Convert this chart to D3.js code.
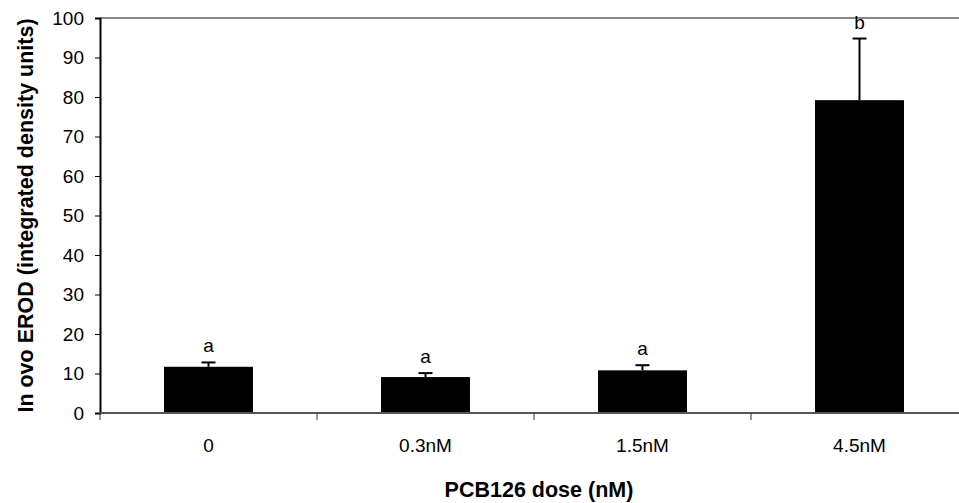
<!DOCTYPE html>
<html>
<head>
<meta charset="utf-8">
<script src="https://cdn.jsdelivr.net/npm/d3@7"></script>
<style>
  body { margin: 0; background: #fff; }
  svg { display: block; font-family: Arial, "Liberation Sans", sans-serif; }
</style>
</head>
<body>
<div id="vis"></div>
<script>
  "use strict";
  const [width, height] = [959, 503];
  // data
  const doses = ["0", "0.3nM", "1.5nM", "4.5nM"];
  const means = [11.7, 9.1, 10.8, 79.2];
  const errors = [1.1, 1.0, 1.3, 15.6];
  const letters = ["a", "a", "a", "b"];
  const yTicks = [0, 10, 20, 30, 40, 50, 60, 70, 80, 90, 100];

  const m = {left: 100, right: 968, top: 18, bottom: 413};
  const fs = 19;

  const x = d3.scaleBand().domain(doses).range([m.left, m.right])
    .paddingInner(0.59).paddingOuter(0.295);
  const xb = d3.scaleBand().domain(doses).range([m.left, m.right]);
  const y = d3.scaleLinear().domain([0, 100]).range([m.bottom, m.top]);

  const svg = d3.select('#vis').append('svg')
    .attr('width', width).attr('height', height);

  // top frame line
  svg.append('line')
    .attr('x1', m.left).attr('x2', m.right)
    .attr('y1', y(100)).attr('y2', y(100))
    .attr('stroke', '#888').attr('stroke-width', 2);

  const data = doses.map((d, i) => ({dose: d, mean: means[i], err: errors[i], letter: letters[i]}));

  const g = svg.selectAll('g.bar')
    .data(data)
    .join('g')
      .attr('class', 'bar');

  g.append('rect')
    .attr('x', d => x(d.dose))
    .attr('y', d => y(d.mean))
    .attr('width', x.bandwidth())
    .attr('height', d => y(0) - y(d.mean))
    .attr('fill', '#000');

  const cx = d => x(d.dose) + x.bandwidth() / 2;
  g.append('line')
    .attr('x1', cx).attr('x2', cx)
    .attr('y1', d => y(d.mean)).attr('y2', d => y(d.mean + d.err))
    .attr('stroke', '#000').attr('stroke-width', 2);
  g.append('line')
    .attr('x1', d => cx(d) - 7).attr('x2', d => cx(d) + 7)
    .attr('y1', d => y(d.mean + d.err)).attr('y2', d => y(d.mean + d.err))
    .attr('stroke', '#000').attr('stroke-width', 2);
  g.append('text')
    .attr('x', cx)
    .attr('y', d => y(d.mean + d.err) - 10)
    .attr('text-anchor', 'middle')
    .attr('font-size', fs)
    .text(d => d.letter);

  // y axis
  const yAxis = svg.append('g')
    .attr('transform', `translate(${m.left},0)`)
    .call(d3.axisLeft(y).tickValues(yTicks).tickSize(5).tickPadding(11));
  yAxis.select('.domain').attr('stroke', '#000').attr('stroke-width', 2);
  yAxis.selectAll('.tick line').attr('stroke', '#000');
  yAxis.selectAll('.tick text').attr('font-size', fs).attr('fill', '#000')
    .attr('font-family', 'Arial, "Liberation Sans", sans-serif');

  // x axis with ticks between categories
  svg.append('line')
    .attr('x1', m.left).attr('x2', m.right)
    .attr('y1', m.bottom).attr('y2', m.bottom)
    .attr('stroke', '#555').attr('stroke-width', 2);
  svg.selectAll('line.xtick')
    .data(doses)
    .join('line')
      .attr('class', 'xtick')
      .attr('x1', d => xb(d)).attr('x2', d => xb(d))
      .attr('y1', m.bottom).attr('y2', m.bottom + 7)
      .attr('stroke', '#333');
  svg.selectAll('text.xlab')
    .data(doses)
    .join('text')
      .attr('class', 'xlab')
      .attr('x', d => xb(d) + xb.bandwidth() / 2)
      .attr('y', 452)
      .attr('text-anchor', 'middle')
      .attr('font-size', fs)
      .text(d => d);

  svg.append('text')
    .attr('x', 539)
    .attr('y', 497)
    .attr('text-anchor', 'middle')
    .attr('font-size', 21.5).attr('font-weight', 'bold')
    .text('PCB126 dose (nM)');

  svg.append('text')
    .attr('transform', `translate(33,${(m.top + m.bottom) / 2}) rotate(-90)`)
    .attr('text-anchor', 'middle')
    .attr('font-size', 21.5).attr('font-weight', 'bold')
    .text('In ovo EROD (integrated density units)');
</script>
</body>
</html>
